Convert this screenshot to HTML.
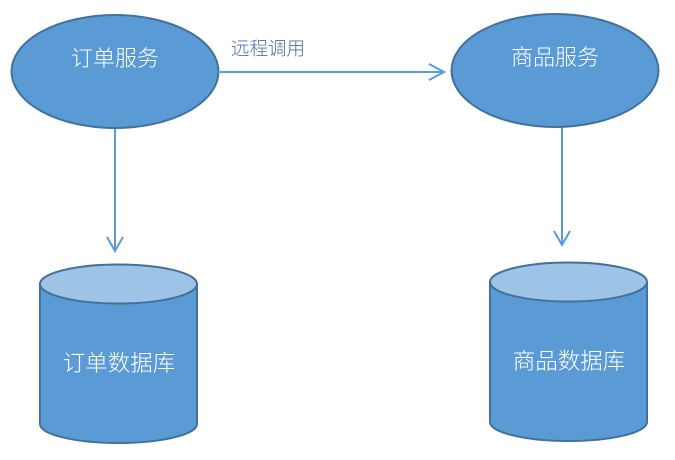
<!DOCTYPE html>
<html><head><meta charset="utf-8"><style>
html,body{margin:0;padding:0;background:#fff;}
svg{display:block;}
text{font-family:"Liberation Sans","Noto Sans CJK SC",sans-serif;font-weight:300;}
</style></head><body>
<svg width="675" height="460" viewBox="0 0 675 460" xmlns="http://www.w3.org/2000/svg">
<g stroke="#5b9bd5" stroke-width="2" fill="none">
<line x1="220" y1="72" x2="444" y2="72"/>
<polyline points="429,64 444,72 429,80"/>
<line x1="115" y1="128" x2="115" y2="251"/>
<polyline points="107,237 115,251 123,237"/>
<line x1="562" y1="127" x2="562" y2="245"/>
<polyline points="554,231 562,245 570,231"/>
</g>
<ellipse cx="115" cy="71.5" rx="103.5" ry="56.5" fill="#5b9bd5" stroke="#41719c" stroke-width="2"/>
<ellipse cx="555" cy="70.5" rx="103.5" ry="56.5" fill="#5b9bd5" stroke="#41719c" stroke-width="2"/>
<text x="115" y="66" font-size="22" fill="#fff" text-anchor="middle">订单服务</text>
<text x="555" y="65" font-size="22" fill="#fff" text-anchor="middle">商品服务</text>
<text x="231" y="55" font-size="18.5" fill="#4a6fa5">远程调用</text>
<path d="M40,284 L40,424 A78.5,19 0 0 0 197,424 L197,284" fill="#5b9bd5" stroke="#41719c" stroke-width="2"/>
<ellipse cx="118.5" cy="284" rx="78.5" ry="19.5" fill="#9dc3e6" stroke="#41719c" stroke-width="2"/>
<text x="119" y="371" font-size="22.5" fill="#fff" text-anchor="middle">订单数据库</text>
<path d="M490,282 L490,422 A78.5,19 0 0 0 647,422 L647,282" fill="#5b9bd5" stroke="#41719c" stroke-width="2"/>
<ellipse cx="568.5" cy="282" rx="78.5" ry="19.5" fill="#9dc3e6" stroke="#41719c" stroke-width="2"/>
<text x="569" y="369" font-size="22.5" fill="#fff" text-anchor="middle">商品数据库</text>
</svg>
</body></html>
